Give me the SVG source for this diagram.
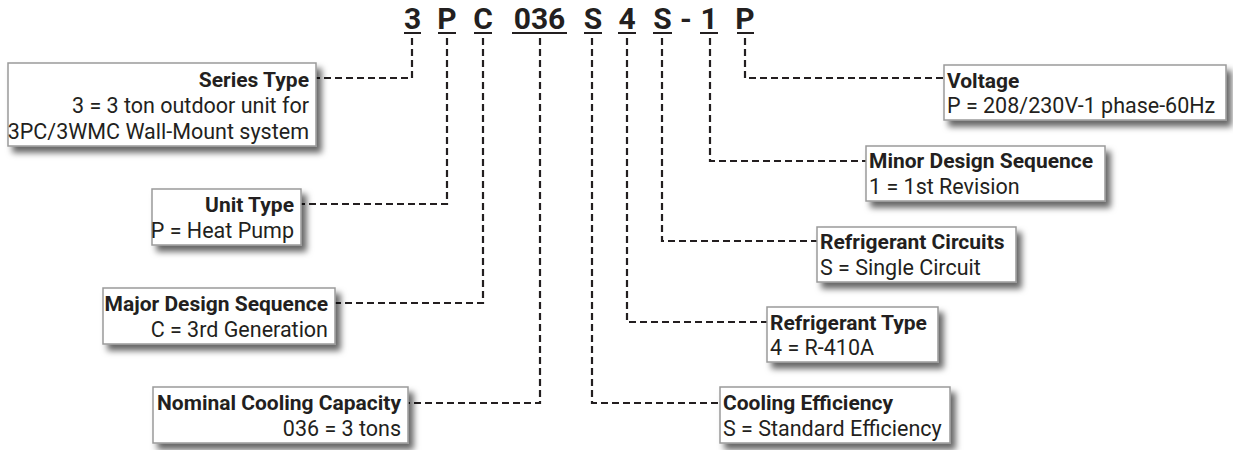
<svg xmlns="http://www.w3.org/2000/svg" width="1233" height="450" viewBox="0 0 1233 450">
<defs>
<filter id="sh" x="-10%" y="-20%" width="130%" height="160%">
<feDropShadow dx="5" dy="6" stdDeviation="3" flood-color="#000" flood-opacity="0.6"/>
</filter>
<style>
.box{fill:#fff;stroke:#9a9a9a;stroke-width:1.5;filter:url(#sh)}
.t{font-family:Roboto,"Liberation Sans",sans-serif;font-size:21.5px;fill:#231f20}
.b{font-weight:bold;font-size:21px}
.e{text-anchor:end}
.code{font-family:Roboto,"Liberation Sans",sans-serif;font-size:30px;font-weight:bold;fill:#231f20;text-anchor:middle}
.ul{stroke:#231f20;stroke-width:2}
.c{fill:none;stroke:#231f20;stroke-width:2.2;stroke-dasharray:7 4}
</style>
</defs>
<rect width="1233" height="450" fill="#fff"/>
<g id="code">
<text class="code" x="412.5" y="29">3</text>
<text class="code" x="447" y="29">P</text>
<text class="code" x="483" y="29">C</text>
<text class="code" x="539.5" y="29">036</text>
<text class="code" x="593" y="29">S</text>
<text class="code" x="627" y="29">4</text>
<text class="code" x="662.5" y="29">S</text>
<text class="code" x="686" y="29">-</text>
<text class="code" x="709" y="29">1</text>
<text class="code" x="745" y="29">P</text>
<line class="ul" x1="404" y1="33" x2="421" y2="33"/>
<line class="ul" x1="438" y1="33" x2="456" y2="33"/>
<line class="ul" x1="474" y1="33" x2="492" y2="33"/>
<line class="ul" x1="512" y1="33" x2="567" y2="33"/>
<line class="ul" x1="584" y1="33" x2="602" y2="33"/>
<line class="ul" x1="618" y1="33" x2="636" y2="33"/>
<line class="ul" x1="653" y1="33" x2="672" y2="33"/>
<line class="ul" x1="700" y1="33" x2="718" y2="33"/>
<line class="ul" x1="737" y1="33" x2="754" y2="33"/>
</g>
<g id="connectors">
<path class="c" d="M412,38 V78 H316"/>
<path class="c" d="M447,38 V204 H301"/>
<path class="c" d="M483,38 V303 H335"/>
<path class="c" d="M540,38 V403 H408"/>
<path class="c" d="M592,38 V403 H720"/>
<path class="c" d="M627,38 V322 H767"/>
<path class="c" d="M662,38 V241 H817"/>
<path class="c" d="M710,38 V161 H866"/>
<path class="c" d="M745,38 V78 H944"/>
</g>
<g id="series-type">
<rect class="box" x="8" y="63" width="308" height="83"/>
<text class="t b e" x="309" y="87">Series Type</text>
<text class="t e" x="309" y="113">3 = 3 ton outdoor unit for</text>
<text class="t e" x="309" y="139">3PC/3WMC Wall-Mount system</text>
</g>
<g id="unit-type">
<rect class="box" x="152" y="189" width="149" height="56"/>
<text class="t b e" x="294" y="212">Unit Type</text>
<text class="t e" x="294" y="238">P = Heat Pump</text>
</g>
<g id="major-design-sequence">
<rect class="box" x="103" y="288" width="232" height="56"/>
<text class="t b e" x="328" y="311">Major Design Sequence</text>
<text class="t e" x="328" y="337">C = 3rd Generation</text>
</g>
<g id="nominal-cooling-capacity">
<rect class="box" x="153" y="387" width="255" height="56"/>
<text class="t b e" x="401" y="410">Nominal Cooling Capacity</text>
<text class="t e" x="401" y="436">036 = 3 tons</text>
</g>
<g id="voltage">
<rect class="box" x="944" y="65" width="282" height="55"/>
<text class="t b" x="947" y="88">Voltage</text>
<text class="t" x="947" y="113">P = 208/230V-1 phase-60Hz</text>
</g>
<g id="minor-design-sequence">
<rect class="box" x="866" y="146" width="239" height="55"/>
<text class="t b" x="869" y="168">Minor Design Sequence</text>
<text class="t" x="869" y="194">1 = 1st Revision</text>
</g>
<g id="refrigerant-circuits">
<rect class="box" x="817" y="227" width="199" height="55"/>
<text class="t b" x="820" y="249">Refrigerant Circuits</text>
<text class="t" x="820" y="275">S = Single Circuit</text>
</g>
<g id="refrigerant-type">
<rect class="box" x="767" y="307" width="171" height="55"/>
<text class="t b" x="770" y="330">Refrigerant Type</text>
<text class="t" x="770" y="355">4 = R-410A</text>
</g>
<g id="cooling-efficiency">
<rect class="box" x="720" y="387" width="230" height="56"/>
<text class="t b" x="723" y="410">Cooling Efficiency</text>
<text class="t" x="723" y="436">S = Standard Efficiency</text>
</g>
</svg>
